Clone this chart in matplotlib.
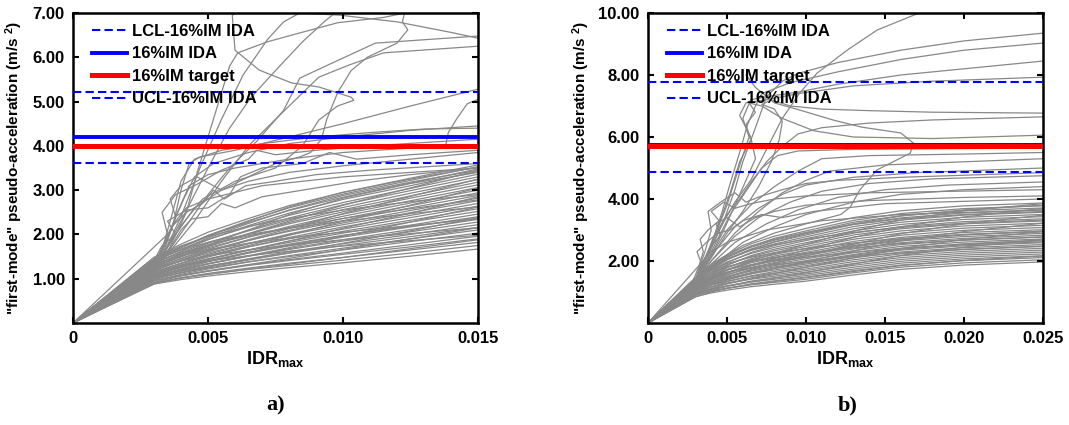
import matplotlib
matplotlib.use('Agg')
import matplotlib.pyplot as plt
import numpy as np

plt.rcParams['font.family'] = ['Liberation Sans', 'DejaVu Sans']
plt.rcParams['font.weight'] = 'bold'
plt.rcParams['mathtext.fontset'] = 'custom'
plt.rcParams['mathtext.rm'] = 'Liberation Sans:bold'
plt.rcParams['mathtext.bf'] = 'Liberation Sans:bold'
plt.rcParams['mathtext.default'] = 'rm'

# ---------------- panel a data ----------------
a_grid_x = [0, 0.0015, 0.003, 0.004, 0.005, 0.0065, 0.008, 0.010, 0.0125, 0.015]
a_bundle = [
    [0, .45, .88, .98, 1.06, 1.16, 1.25, 1.36, 1.51, 1.67],
    [0, .46, .91, 1.02, 1.10, 1.21, 1.30, 1.42, 1.58, 1.75],
    [0, .44, .88, 1.02, 1.12, 1.24, 1.35, 1.48, 1.65, 1.82],
    [0, .48, .95, 1.07, 1.17, 1.30, 1.41, 1.55, 1.72, 1.90],
    [0, .46, .92, 1.06, 1.17, 1.31, 1.43, 1.58, 1.77, 1.96],
    [0, .50, 1.00, 1.13, 1.24, 1.38, 1.50, 1.65, 1.84, 2.03],
    [0, .47, .95, 1.10, 1.22, 1.38, 1.52, 1.69, 1.90, 2.10],
    [0, .52, 1.03, 1.17, 1.29, 1.44, 1.58, 1.75, 1.95, 2.16],
    [0, .49, .98, 1.14, 1.28, 1.45, 1.61, 1.79, 2.00, 2.22],
    [0, .53, 1.06, 1.21, 1.34, 1.51, 1.66, 1.85, 2.06, 2.28],
    [0, .50, 1.01, 1.18, 1.33, 1.51, 1.68, 1.88, 2.11, 2.34],
    [0, .55, 1.10, 1.26, 1.40, 1.58, 1.74, 1.94, 2.17, 2.40],
    [0, .52, 1.04, 1.22, 1.38, 1.58, 1.76, 1.97, 2.21, 2.46],
    [0, .56, 1.12, 1.30, 1.45, 1.65, 1.82, 2.03, 2.28, 2.52],
    [0, .53, 1.07, 1.26, 1.43, 1.65, 1.85, 2.07, 2.32, 2.58],
    [0, .58, 1.16, 1.35, 1.52, 1.72, 1.90, 2.12, 2.38, 2.64],
    [0, .55, 1.10, 1.31, 1.49, 1.72, 1.93, 2.17, 2.43, 2.70],
    [0, .60, 1.20, 1.40, 1.58, 1.80, 1.99, 2.22, 2.49, 2.76],
    [0, .57, 1.14, 1.35, 1.55, 1.79, 2.01, 2.26, 2.54, 2.82],
    [0, .62, 1.24, 1.45, 1.64, 1.87, 2.07, 2.31, 2.60, 2.88],
    [0, .59, 1.18, 1.40, 1.61, 1.86, 2.09, 2.36, 2.65, 2.94],
    [0, .64, 1.28, 1.50, 1.70, 1.94, 2.15, 2.41, 2.71, 3.00],
    [0, .61, 1.22, 1.46, 1.67, 1.94, 2.18, 2.46, 2.76, 3.06],
    [0, .66, 1.32, 1.55, 1.76, 2.01, 2.24, 2.51, 2.82, 3.12],
    [0, .63, 1.26, 1.50, 1.73, 2.01, 2.27, 2.56, 2.87, 3.18],
    [0, .68, 1.36, 1.60, 1.82, 2.08, 2.33, 2.61, 2.93, 3.24],
    [0, .65, 1.30, 1.56, 1.80, 2.10, 2.37, 2.67, 2.99, 3.30],
    [0, .70, 1.40, 1.66, 1.89, 2.17, 2.43, 2.72, 3.04, 3.36],
    [0, .67, 1.34, 1.62, 1.88, 2.20, 2.48, 2.79, 3.10, 3.42],
    [0, .72, 1.44, 1.72, 1.97, 2.27, 2.54, 2.84, 3.16, 3.48],
    [0, .70, 1.40, 1.70, 1.98, 2.31, 2.60, 2.91, 3.22, 3.53],
    [0, .74, 1.48, 1.78, 2.05, 2.36, 2.65, 2.95, 3.27, 3.57],
    [0, .66, 1.32, 1.52, 1.66, 1.80, 1.92, 2.05, 2.20, 2.35],
    [0, .62, 1.24, 1.40, 1.52, 1.65, 1.76, 1.88, 2.02, 2.15],
    [0, .58, 1.16, 1.30, 1.40, 1.52, 1.62, 1.74, 1.86, 1.98],
    [0, .72, 1.44, 1.65, 1.82, 2.00, 2.14, 2.30, 2.47, 2.62],
    [0, .74, 1.48, 1.74, 1.95, 2.18, 2.36, 2.55, 2.74, 2.90],
    [0, .68, 1.36, 1.58, 1.76, 1.97, 2.15, 2.36, 2.58, 2.78],
    [0, .48, .96, 1.08, 1.18, 1.32, 1.46, 1.66, 1.90, 2.15],
    [0, .50, 1.00, 1.14, 1.26, 1.42, 1.58, 1.80, 2.08, 2.38],
    [0, .52, 1.04, 1.20, 1.34, 1.52, 1.70, 1.96, 2.28, 2.62],
    [0, .55, 1.10, 1.28, 1.44, 1.64, 1.85, 2.14, 2.48, 2.85],
    [0, .57, 1.14, 1.34, 1.52, 1.75, 1.98, 2.30, 2.66, 3.05],
    [0, .60, 1.20, 1.42, 1.62, 1.88, 2.13, 2.47, 2.86, 3.25],
    [0, .63, 1.26, 1.50, 1.73, 2.02, 2.30, 2.66, 3.05, 3.45],
    [0, .64, 1.28, 1.52, 1.76, 2.10, 2.45, 2.82, 3.15, 3.40],
    [0, .69, 1.38, 1.66, 1.92, 2.25, 2.55, 2.88, 3.18, 3.45],
    [0, .71, 1.42, 1.70, 1.96, 2.30, 2.62, 2.95, 3.25, 3.52],
    [0, .54, 1.08, 1.25, 1.40, 1.60, 1.78, 1.98, 2.18, 2.37],
    [0, .45, .90, 1.01, 1.10, 1.22, 1.33, 1.48, 1.68, 1.88],
]
a_irregular = [
    [[0, 0], [0.0033, 1.5], [0.004, 2.3], [0.0045, 2.9], [0.005, 3.5], [0.0058, 4.4], [0.0066, 5.1],
     [0.0075, 5.7], [0.0085, 6.35], [0.0093, 6.8], [0.0098, 7.05]],
    [[0, 0], [0.0032, 1.45], [0.0038, 2.0], [0.0045, 2.6], [0.0055, 3.0], [0.0065, 3.3], [0.0075, 3.6],
     [0.0084, 3.75], [0.0088, 3.85], [0.0092, 4.15], [0.0094, 4.6], [0.0098, 5.2], [0.0103, 5.7],
     [0.0109, 6.0], [0.012, 6.32], [0.0124, 6.62], [0.0122, 6.8], [0.0123, 7.05]],
    [[0, 0], [0.0033, 1.5], [0.004, 2.2], [0.0048, 2.8], [0.006, 3.2], [0.0075, 3.5], [0.0085, 4.0],
     [0.0091, 4.58], [0.0098, 4.9], [0.0104, 5.03], [0.0103, 5.1], [0.0091, 5.33], [0.0081, 5.42],
     [0.0069, 5.71], [0.0060, 6.16], [0.0059, 6.95], [0.0062, 7.05]],
    [[0, 0], [0.0035, 1.6], [0.0042, 2.5], [0.0046, 3.4], [0.005, 4.2], [0.0054, 5.0], [0.0058, 5.8],
     [0.0061, 6.1], [0.0072, 6.35], [0.0084, 6.55], [0.0098, 6.78], [0.0115, 6.9], [0.0127, 7.05]],
    [[0, 0], [0.0033, 1.5], [0.004, 2.4], [0.0047, 3.5], [0.0055, 4.6], [0.0063, 5.6], [0.0072, 6.4],
     [0.0078, 6.8], [0.0084, 7.0], [0.0099, 6.95], [0.012, 6.8], [0.0141, 6.55], [0.015, 6.43]],
    [[0, 0], [0.0034, 1.5], [0.0042, 2.2], [0.005, 2.9], [0.0058, 3.5], [0.0068, 4.1], [0.0078, 4.8],
     [0.0084, 5.53], [0.0096, 5.87], [0.0112, 6.32], [0.015, 6.48]],
    [[0, 0], [0.0033, 1.4], [0.0045, 2.3], [0.0055, 3.2], [0.0065, 4.0], [0.0075, 4.6], [0.0091, 5.55],
     [0.0102, 5.82], [0.0115, 6.1], [0.015, 6.25]],
    [[0, 0], [0.0032, 1.45], [0.0037, 2.2], [0.004, 3.0], [0.0043, 3.6], [0.0047, 3.75], [0.006, 3.9],
     [0.008, 4.2], [0.010, 4.5], [0.0125, 4.9], [0.015, 5.28]],
    [[0, 0], [0.0031, 1.4], [0.0036, 2.1], [0.0041, 2.8], [0.0045, 3.3], [0.0052, 3.6], [0.0065, 3.85],
     [0.008, 4.05], [0.010, 4.2], [0.0125, 4.35], [0.015, 4.45]],
    [[0, 0], [0.0033, 1.5], [0.0038, 2.4], [0.0043, 3.1], [0.005, 3.35], [0.006, 3.5], [0.008, 3.7],
     [0.010, 3.85], [0.0125, 3.95], [0.0138, 4.0], [0.0139, 4.3], [0.0142, 4.6], [0.0146, 4.95], [0.015, 5.05]],
    [[0, 0], [0.0032, 1.45], [0.0036, 2.3], [0.004, 3.2], [0.0045, 3.7], [0.0055, 3.9], [0.007, 4.05],
     [0.009, 4.2], [0.011, 4.3], [0.013, 4.38], [0.015, 4.4]],
    [[0, 0], [0.003, 1.35], [0.0035, 1.9], [0.0038, 2.4], [0.0036, 2.8], [0.004, 3.1], [0.0046, 3.3],
     [0.0055, 3.0], [0.0065, 3.2], [0.008, 3.4], [0.010, 3.55], [0.0125, 3.7], [0.015, 3.85]],
    [[0, 0], [0.003, 1.3], [0.0034, 1.8], [0.0037, 2.2], [0.0042, 2.5], [0.0048, 2.7], [0.0052, 3.0],
     [0.0056, 2.8], [0.0064, 3.1], [0.0075, 3.2], [0.009, 3.35], [0.011, 3.45], [0.015, 3.6]],
    [[0, 0], [0.0031, 1.4], [0.0035, 2.0], [0.0033, 2.5], [0.0038, 2.9], [0.0045, 3.1], [0.0055, 3.45],
     [0.0065, 3.7], [0.0068, 3.9], [0.0075, 3.8], [0.009, 3.9], [0.011, 4.0], [0.015, 4.15]],
    [[0, 0], [0.003, 1.3], [0.0036, 1.7], [0.004, 2.1], [0.0044, 2.35], [0.005, 2.4], [0.0055, 2.7],
     [0.006, 2.6], [0.007, 2.85], [0.0085, 3.0], [0.0105, 3.2], [0.0125, 3.35], [0.015, 3.5]],
    [[0, 0], [0.0029, 1.3], [0.0033, 1.75], [0.0038, 2.0], [0.0035, 2.3], [0.0042, 2.55], [0.005, 2.6],
     [0.0058, 2.9], [0.0062, 3.3], [0.007, 3.5], [0.0085, 3.6], [0.0095, 3.85], [0.0105, 3.7],
     [0.0125, 3.8], [0.015, 3.9]],
    [[0, 0], [0.0035, 2.0], [0.0038, 2.3], [0.0042, 2.6], [0.005, 2.8], [0.007, 3.1], [0.010, 3.3], [0.015, 3.5]],
]
a_lcl, a_ida, a_target, a_ucl = 3.62, 4.21, 4.00, 5.22
a_xticks = [0, 0.005, 0.010, 0.015]
a_xticklabels = ['0', '0.005', '0.010', '0.015']
a_yticks = [1, 2, 3, 4, 5, 6, 7]
a_yticklabels = ['1.00', '2.00', '3.00', '4.00', '5.00', '6.00', '7.00']

# ---------------- panel b data ----------------
b_grid_x = [0, 0.003, 0.004, 0.005, 0.0065, 0.008, 0.010, 0.013, 0.016, 0.020, 0.025]
b_bundle = [
    [0, 0.85, 0.97, 1.06, 1.17, 1.25, 1.35, 1.55, 1.73, 1.87, 1.97],
    [0, 0.93, 1.04, 1.12, 1.23, 1.31, 1.41, 1.62, 1.80, 1.94, 2.04],
    [0, 0.84, 1.00, 1.12, 1.26, 1.36, 1.48, 1.69, 1.87, 2.01, 2.11],
    [0, 0.97, 1.10, 1.20, 1.32, 1.41, 1.53, 1.74, 1.93, 2.07, 2.17],
    [0, 0.88, 1.05, 1.19, 1.35, 1.46, 1.58, 1.80, 1.99, 2.13, 2.23],
    [0, 1.01, 1.16, 1.28, 1.41, 1.51, 1.64, 1.86, 2.05, 2.19, 2.29],
    [0, 0.92, 1.11, 1.26, 1.43, 1.56, 1.69, 1.92, 2.11, 2.25, 2.35],
    [0, 1.05, 1.22, 1.35, 1.50, 1.61, 1.74, 1.98, 2.17, 2.31, 2.41],
    [0, 0.96, 1.16, 1.33, 1.52, 1.66, 1.80, 2.04, 2.23, 2.37, 2.47],
    [0, 1.09, 1.28, 1.43, 1.59, 1.71, 1.85, 2.10, 2.29, 2.43, 2.53],
    [0, 1.00, 1.22, 1.40, 1.61, 1.76, 1.90, 2.15, 2.35, 2.49, 2.59],
    [0, 1.12, 1.34, 1.50, 1.67, 1.81, 1.96, 2.21, 2.41, 2.55, 2.65],
    [0, 1.03, 1.27, 1.47, 1.70, 1.85, 2.01, 2.27, 2.47, 2.61, 2.71],
    [0, 1.16, 1.39, 1.57, 1.76, 1.90, 2.07, 2.33, 2.53, 2.67, 2.77],
    [0, 1.07, 1.33, 1.55, 1.79, 1.95, 2.12, 2.39, 2.59, 2.73, 2.83],
    [0, 1.20, 1.45, 1.64, 1.85, 2.00, 2.17, 2.45, 2.65, 2.79, 2.89],
    [0, 1.11, 1.38, 1.62, 1.87, 2.05, 2.23, 2.50, 2.71, 2.86, 2.95],
    [0, 1.24, 1.50, 1.71, 1.94, 2.10, 2.28, 2.56, 2.76, 2.92, 3.01],
    [0, 1.15, 1.44, 1.70, 1.97, 2.16, 2.34, 2.63, 2.83, 2.99, 3.08],
    [0, 1.28, 1.57, 1.80, 2.04, 2.21, 2.41, 2.70, 2.90, 3.06, 3.15],
    [0, 1.19, 1.51, 1.78, 2.07, 2.27, 2.47, 2.77, 2.97, 3.13, 3.22],
    [0, 1.33, 1.63, 1.88, 2.14, 2.33, 2.53, 2.84, 3.04, 3.20, 3.29],
    [0, 1.24, 1.57, 1.86, 2.17, 2.38, 2.59, 2.90, 3.11, 3.27, 3.36],
    [0, 1.37, 1.69, 1.97, 2.24, 2.44, 2.66, 2.97, 3.18, 3.34, 3.43],
    [0, 1.28, 1.64, 1.95, 2.27, 2.50, 2.72, 3.04, 3.25, 3.41, 3.50],
    [0, 1.42, 1.75, 2.05, 2.34, 2.55, 2.78, 3.11, 3.32, 3.48, 3.57],
    [0, 1.33, 1.71, 2.04, 2.37, 2.61, 2.84, 3.18, 3.39, 3.55, 3.64],
    [0, 1.46, 1.81, 2.12, 2.44, 2.67, 2.91, 3.25, 3.46, 3.62, 3.71],
    [0, 1.37, 1.78, 2.13, 2.47, 2.73, 2.97, 3.31, 3.53, 3.69, 3.78],
    [0, 1.45, 1.85, 2.20, 2.55, 2.80, 3.05, 3.40, 3.62, 3.78, 3.87],
    [0, 1.40, 1.70, 1.92, 2.12, 2.26, 2.40, 2.58, 2.72, 2.85, 2.95],
    [0, 1.35, 1.62, 1.82, 2.00, 2.12, 2.25, 2.42, 2.56, 2.68, 2.78],
    [0, 1.30, 1.55, 1.72, 1.88, 2.00, 2.12, 2.28, 2.40, 2.52, 2.62],
    [0, 1.25, 1.48, 1.64, 1.78, 1.88, 1.99, 2.14, 2.26, 2.38, 2.48],
    [0, 1.44, 1.80, 2.08, 2.35, 2.52, 2.70, 2.92, 3.08, 3.22, 3.32],
    [0, 1.45, 1.84, 2.16, 2.48, 2.70, 2.92, 3.18, 3.36, 3.50, 3.60],
    [0, 0.95, 1.08, 1.18, 1.32, 1.45, 1.62, 1.90, 2.18, 2.45, 2.70],
    [0, 1.00, 1.16, 1.28, 1.45, 1.60, 1.80, 2.10, 2.40, 2.70, 2.95],
    [0, 1.05, 1.24, 1.39, 1.58, 1.76, 1.98, 2.32, 2.65, 2.95, 3.22],
    [0, 1.10, 1.32, 1.50, 1.72, 1.92, 2.17, 2.54, 2.88, 3.20, 3.48],
    [0, 1.15, 1.40, 1.61, 1.86, 2.08, 2.36, 2.76, 3.10, 3.42, 3.70],
    [0, 1.20, 1.48, 1.72, 2.00, 2.24, 2.54, 2.96, 3.32, 3.62, 3.85],
    [0, 0.90, 1.02, 1.12, 1.24, 1.34, 1.46, 1.66, 1.85, 2.02, 2.16],
    [0, 1.38, 1.75, 2.05, 2.38, 2.62, 2.88, 3.20, 3.45, 3.65, 3.80],
    [0, 1.18, 1.42, 1.62, 1.84, 2.02, 2.22, 2.48, 2.68, 2.84, 2.97],
    [0, 1.08, 1.28, 1.44, 1.62, 1.77, 1.94, 2.18, 2.38, 2.55, 2.68],
]
b_irregular = [
    [[0, 0], [0.003, 1.4], [0.0038, 2.2], [0.0045, 3.0], [0.0055, 3.9], [0.0065, 4.6], [0.0075, 5.6],
     [0.0085, 6.6], [0.0096, 7.42], [0.0107, 8.06], [0.0126, 8.8], [0.0145, 9.45], [0.0174, 10.05]],
    [[0, 0], [0.003, 1.4], [0.004, 2.4], [0.0048, 3.3], [0.0055, 4.3], [0.006, 5.2], [0.0068, 6.3],
     [0.0075, 7.3], [0.0085, 7.8], [0.0095, 8.05], [0.012, 8.4], [0.016, 8.8], [0.020, 9.1], [0.025, 9.35]],
    [[0, 0], [0.0032, 1.5], [0.004, 2.5], [0.0047, 3.6], [0.0052, 4.5], [0.0058, 5.5], [0.0063, 6.4],
     [0.0068, 7.0], [0.0072, 7.4], [0.009, 7.75], [0.012, 8.1], [0.016, 8.5], [0.020, 8.8], [0.025, 9.03]],
    [[0, 0], [0.003, 1.4], [0.0036, 2.0], [0.0043, 2.9], [0.005, 3.8], [0.0055, 4.6], [0.006, 5.4],
     [0.0064, 6.0], [0.006, 6.6], [0.0065, 7.2], [0.0075, 7.3], [0.0095, 7.45], [0.012, 7.7],
     [0.016, 8.0], [0.020, 8.2], [0.025, 8.45]],
    [[0, 0], [0.0031, 1.4], [0.004, 2.2], [0.0048, 3.0], [0.0055, 3.8], [0.0062, 4.6], [0.0068, 5.3],
     [0.0065, 6.0], [0.0058, 6.7], [0.0062, 7.1], [0.0075, 7.2], [0.0095, 7.4], [0.013, 7.65],
     [0.018, 7.8], [0.025, 7.93]],
    [[0, 0], [0.003, 1.35], [0.004, 2.1], [0.005, 2.9], [0.006, 3.6], [0.007, 4.4], [0.0078, 5.2],
     [0.0083, 5.9], [0.0085, 6.5], [0.008, 6.9], [0.0072, 7.05], [0.0078, 7.2], [0.009, 7.0],
     [0.011, 6.9], [0.014, 6.85], [0.018, 6.8], [0.025, 6.77]],
    [[0, 0], [0.003, 1.4], [0.0038, 2.1], [0.0045, 2.8], [0.0052, 3.5], [0.006, 4.1], [0.0068, 4.7],
     [0.0075, 5.2], [0.0085, 5.7], [0.0095, 6.1], [0.011, 6.3], [0.014, 6.45], [0.018, 6.55], [0.025, 6.65]],
    [[0, 0], [0.003, 1.4], [0.004, 1.9], [0.006, 2.5], [0.008, 2.9], [0.010, 3.2], [0.0122, 3.5],
     [0.0128, 3.74], [0.0134, 4.29], [0.0145, 4.94], [0.0166, 5.48], [0.0168, 5.8], [0.016, 6.13],
     [0.0135, 6.32], [0.0117, 6.55], [0.0096, 6.87], [0.008, 7.1], [0.0068, 7.6], [0.0062, 8.0]],
    [[0, 0], [0.003, 1.4], [0.0037, 2.2], [0.0045, 3.2], [0.0052, 4.2], [0.0058, 5.2], [0.0065, 5.9],
     [0.0062, 6.4], [0.0068, 6.8], [0.0064, 7.1], [0.0072, 7.0], [0.0085, 6.6], [0.0105, 6.2],
     [0.013, 6.0], [0.018, 5.95], [0.025, 6.06]],
    [[0, 0], [0.0029, 1.3], [0.0036, 2.0], [0.0042, 2.8], [0.005, 3.5], [0.0058, 4.0], [0.0066, 4.6],
     [0.0072, 5.0], [0.0082, 5.4], [0.0095, 5.55], [0.013, 5.6], [0.018, 5.62], [0.025, 5.64]],
    [[0, 0], [0.003, 1.4], [0.004, 2.2], [0.005, 3.0], [0.0065, 3.8], [0.008, 4.4], [0.0095, 4.9],
     [0.011, 5.3], [0.014, 5.4], [0.020, 5.45], [0.025, 5.5]],
    [[0, 0], [0.003, 1.35], [0.004, 2.0], [0.0055, 2.9], [0.007, 3.6], [0.0085, 4.2], [0.010, 4.6],
     [0.0115, 4.9], [0.015, 5.1], [0.020, 5.2], [0.025, 5.3]],
    [[0, 0], [0.003, 1.4], [0.0042, 2.3], [0.0055, 3.1], [0.007, 3.7], [0.0085, 4.15], [0.010, 4.45],
     [0.013, 4.7], [0.017, 4.85], [0.025, 5.0]],
    [[0, 0], [0.003, 1.35], [0.004, 2.0], [0.0055, 2.8], [0.007, 3.4], [0.009, 3.9], [0.011, 4.25],
     [0.014, 4.5], [0.018, 4.65], [0.025, 4.75]],
    [[0, 0], [0.003, 1.3], [0.004, 1.9], [0.0055, 2.6], [0.0075, 3.2], [0.0095, 3.65], [0.012, 4.05],
     [0.015, 4.3], [0.019, 4.45], [0.025, 4.55]],
    [[0, 0], [0.003, 1.3], [0.0045, 2.0], [0.006, 2.6], [0.008, 3.1], [0.010, 3.5], [0.013, 3.9],
     [0.016, 4.15], [0.020, 4.3], [0.025, 4.4]],
    [[0, 0], [0.0028, 1.3], [0.0032, 1.8], [0.0035, 2.3], [0.0033, 2.7], [0.0038, 3.0], [0.0045, 3.3],
     [0.0040, 3.6], [0.0048, 3.9], [0.0055, 3.7], [0.0065, 3.85], [0.008, 4.0], [0.010, 4.1],
     [0.014, 4.2], [0.025, 4.3]],
    [[0, 0], [0.003, 1.35], [0.0035, 2.0], [0.004, 2.5], [0.0046, 2.8], [0.0043, 3.2], [0.005, 3.4],
     [0.0058, 3.1], [0.0068, 3.4], [0.008, 3.6], [0.010, 3.8], [0.014, 3.95], [0.020, 4.05], [0.025, 4.1]],
    [[0, 0], [0.0029, 1.3], [0.0034, 1.9], [0.0031, 2.3], [0.0037, 2.6], [0.0044, 2.9], [0.0052, 3.0],
     [0.006, 3.3], [0.0072, 3.5], [0.0085, 3.4], [0.0105, 3.6], [0.015, 3.85], [0.025, 4.0]],
    [[0, 0], [0.003, 1.4], [0.0036, 2.3], [0.0040, 3.0], [0.0038, 3.6], [0.0046, 3.9], [0.0055, 4.2],
     [0.0062, 3.9], [0.0072, 4.1], [0.0085, 4.3], [0.010, 4.5], [0.012, 4.6], [0.016, 4.7], [0.025, 4.85]],
    [[0, 0], [0.0034, 1.95], [0.004, 2.3], [0.005, 2.6], [0.0075, 3.0], [0.011, 3.3], [0.016, 3.5], [0.025, 3.65]],
]
b_lcl, b_ida, b_target, b_ucl = 4.87, 5.75, 5.71, 7.79
b_xticks = [0, 0.005, 0.010, 0.015, 0.020, 0.025]
b_xticklabels = ['0', '0.005', '0.010', '0.015', '0.020', '0.025']
b_yticks = [2, 4, 6, 8, 10]
b_yticklabels = ['2.00', '4.00', '6.00', '8.00', '10.00']

legend_labels = ['LCL-16%IM IDA', '16%IM IDA', '16%IM target', 'UCL-16%IM IDA']

GRAY = '#888888'
BLUE = '#0000ff'
RED = '#ff0000'

fig = plt.figure(figsize=(10.69, 4.25), dpi=100)
axA = fig.add_axes([73 / 1069, 102 / 425, 405 / 1069, 310 / 425])
axB = fig.add_axes([648 / 1069, 102 / 425, 395 / 1069, 310 / 425])


def draw(ax, gx, bundle, irregular, lcl, ida, target, ucl, xmax, ymax,
         xticks, xticklabels, yticks, yticklabels, ylabel_x):
    for ys in bundle:
        ax.plot(gx, ys, color=GRAY, lw=0.9, zorder=1)
    for pts in irregular:
        arr = np.array(pts)
        ax.plot(arr[:, 0], arr[:, 1], color=GRAY, lw=0.9, zorder=1)
    ax.axhline(lcl, color=BLUE, lw=1.5, ls=(0, (4, 2)), label=legend_labels[0], zorder=3)
    ax.axhline(ida, color=BLUE, lw=2.8, label=legend_labels[1], zorder=3)
    ax.axhline(target, color=RED, lw=3.6, label=legend_labels[2], zorder=4)
    ax.axhline(ucl, color=BLUE, lw=1.5, ls=(0, (4, 2)), label=legend_labels[3], zorder=3)
    ax.set_xlim(0, xmax)
    ax.set_ylim(0, ymax)
    ax.set_xticks(xticks)
    ax.set_xticklabels(xticklabels)
    ax.set_yticks(yticks)
    ax.set_yticklabels(yticklabels)
    ax.tick_params(direction='in', top=True, right=True, length=4, width=1.5,
                   labelsize=12, pad=6)
    for s in ax.spines.values():
        s.set_linewidth(1.8)
    ax.set_ylabel('"first-mode" pseudo-acceleration (m/s $^{2}$)', fontsize=11, fontweight='bold')
    ax.yaxis.set_label_coords(ylabel_x, 0.5)
    ax.set_xlabel(r'IDR$_{\mathrm{max}}$', fontsize=13, fontweight='bold')
    ax.xaxis.set_label_coords(0.5, -0.085)
    ax.xaxis.label.set_va('top')
    leg = ax.legend(loc='upper left', bbox_to_anchor=(0.047, 0.965), frameon=False,
                    fontsize=12, handlelength=2.1, handletextpad=0.3, labelspacing=0.45,
                    borderpad=0, borderaxespad=0)
    for t in leg.get_texts():
        t.set_fontweight('bold')


draw(axA, a_grid_x, a_bundle, a_irregular, a_lcl, a_ida, a_target, a_ucl, 0.015, 7,
     a_xticks, a_xticklabels, a_yticks, a_yticklabels, -0.1185)
draw(axB, b_grid_x, b_bundle, b_irregular, b_lcl, b_ida, b_target, b_ucl, 0.025, 10,
     b_xticks, b_xticklabels, b_yticks, b_yticklabels, -0.142)

fig.text(275.5 / 1069, 1 - 405 / 425, 'a)', ha='center', va='center',
         fontsize=16, fontweight='bold', family=['Liberation Serif', 'DejaVu Serif'])
fig.text(848 / 1069, 1 - 405 / 425, 'b)', ha='center', va='center',
         fontsize=16, fontweight='bold', family=['Liberation Serif', 'DejaVu Serif'])

fig.savefig('out.png', dpi=100)
